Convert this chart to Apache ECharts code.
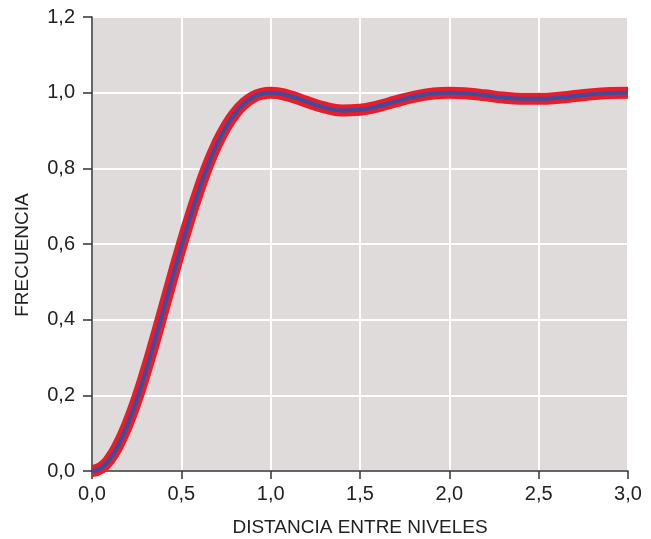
<!DOCTYPE html>
<html><head><meta charset="utf-8">
<script src="https://cdn.jsdelivr.net/npm/echarts@6/dist/echarts.min.js"></script>
<style>html,body{margin:0;padding:0;background:#fff}#c{width:651px;height:539px}</style>
</head><body><div id="c"></div>
<script>
var xValues = [0,0.05,0.1,0.15,0.2,0.25,0.3,0.35,0.4,0.45,0.5,0.55,0.6,0.65,0.7,0.75,0.8,0.85,0.9,0.95,1.0,1.1,1.2,1.3,1.4,1.5,1.6,1.7,1.8,1.9,2.0,2.1,2.2,2.3,2.4,2.5,2.6,2.7,2.8,2.9,3.0];
var frecuencia = [0,0.008,0.032,0.072,0.125,0.189,0.263,0.343,0.427,0.512,0.595,0.673,0.745,0.81,0.865,0.91,0.945,0.971,0.988,0.997,1.0,0.992,0.976,0.961,0.953,0.955,0.964,0.977,0.989,0.997,1.0,0.998,0.993,0.987,0.984,0.984,0.986,0.991,0.996,0.999,1.0];
var xTitle = 'DISTANCIA ENTRE NIVELES';
var yTitle = 'FRECUENCIA';

var pts = xValues.map(function(x,i){return [x, frecuencia[i]];});
var fmt = function(v){return v.toFixed(1).replace('.',',');};
var font = 'Liberation Sans, Arial, Helvetica, sans-serif';
var chart = echarts.init(document.getElementById('c'), null, {renderer:'canvas'});
chart.setOption({
  animation:false,
  backgroundColor:'#ffffff',
  grid:{left:92,top:17,right:23,bottom:68,show:true,backgroundColor:'#dfdbdb',borderWidth:0,containLabel:false,outerBoundsMode:'none'},
  xAxis:{type:'value',min:0,max:3,interval:0.5,
    name:xTitle,nameLocation:'middle',nameGap:47,
    nameTextStyle:{fontFamily:font,fontSize:19,color:'#222'},
    axisLine:{show:true,lineStyle:{color:'#333',width:1.5}},
    axisTick:{show:true,inside:false,length:8,lineStyle:{color:'#333',width:1.5}},
    axisLabel:{formatter:fmt,fontFamily:font,fontSize:20,color:'#222',margin:13},
    splitLine:{show:true,lineStyle:{color:'#ffffff',width:2}}},
  yAxis:{type:'value',min:0,max:1.2,interval:0.2,
    name:yTitle,nameLocation:'middle',nameGap:60,nameRotate:90,
    nameTextStyle:{fontFamily:font,fontSize:19,color:'#222',padding:[0,22,0,0]},
    axisLine:{show:true,lineStyle:{color:'#333',width:1.5}},
    axisTick:{show:true,inside:false,length:9,lineStyle:{color:'#333',width:1.5}},
    axisLabel:{formatter:fmt,fontFamily:font,fontSize:20,color:'#222',margin:17},
    splitLine:{show:true,lineStyle:{color:'#ffffff',width:2}}},
  series:[
    {type:'line',data:pts,smooth:true,showSymbol:false,lineStyle:{color:'#ea1c2a',width:12}},
    {type:'line',data:pts,smooth:true,showSymbol:false,lineStyle:{color:'#3d4c9e',width:4}}
  ]
});
</script></body></html>
